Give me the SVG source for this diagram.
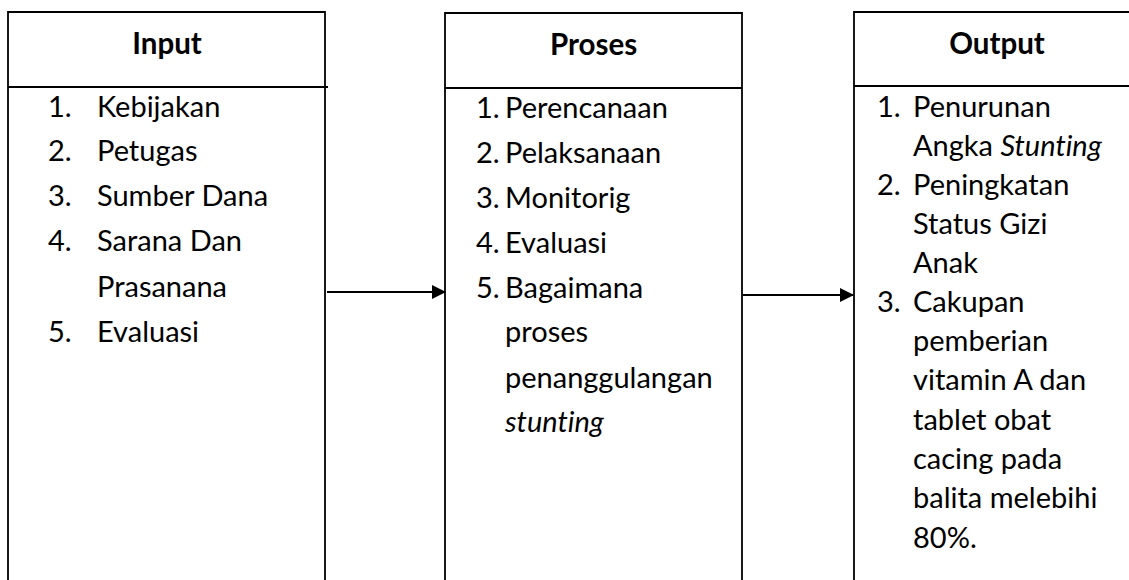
<svg xmlns="http://www.w3.org/2000/svg" width="1129" height="580" viewBox="0 0 1129 580">
<style>
.box{fill:none;stroke:#000;stroke-width:1.8}
.t{font-family:Lato,"Liberation Sans",sans-serif;font-size:29px;fill:#000;font-variant-ligatures:none}
.h{font-family:Lato,"Liberation Sans",sans-serif;font-size:29.5px;font-weight:bold;fill:#000;text-anchor:middle}
.c{fill:none;stroke:#000;stroke-width:2}
</style>
<defs>
<marker id="ah" markerWidth="14" markerHeight="14" refX="13" refY="7" orient="auto" markerUnits="userSpaceOnUse">
<path d="M0,0 L14,7 L0,14 Z" fill="#000"/>
</marker>
</defs>
<g id="input">
<path class="box" d="M8,600 V12 H325 V600"/>
<line class="box" x1="8" y1="87" x2="328" y2="87"/>
<text class="h" x="167" y="54">Input</text>
<text class="t" x="48" y="117">1.</text><text class="t" x="97" y="117">Kebijakan</text>
<text class="t" x="48" y="161">2.</text><text class="t" x="97" y="161">Petugas</text>
<text class="t" x="48" y="206">3.</text><text class="t" x="97" y="206">Sumber Dana</text>
<text class="t" x="48" y="251">4.</text><text class="t" x="97" y="251">Sarana Dan</text>
<text class="t" x="97" y="297">Prasanana</text>
<text class="t" x="48" y="342">5.</text><text class="t" x="97" y="342">Evaluasi</text>
</g>
<g id="proses">
<path class="box" d="M445,600 V13 H742 V600"/>
<line class="box" x1="445" y1="88" x2="742" y2="88"/>
<text class="h" x="593.5" y="55">Proses</text>
<text class="t" x="476" y="118">1.</text><text class="t" x="505" y="118">Perencanaan</text>
<text class="t" x="476" y="163">2.</text><text class="t" x="505" y="163">Pelaksanaan</text>
<text class="t" x="476" y="208">3.</text><text class="t" x="505" y="208">Monitorig</text>
<text class="t" x="476" y="253">4.</text><text class="t" x="505" y="253">Evaluasi</text>
<text class="t" x="476" y="298">5.</text><text class="t" x="505" y="298">Bagaimana</text>
<text class="t" x="505" y="342">proses</text>
<text class="t" x="505" y="388">penanggulangan</text>
<text class="t" x="505" y="432" font-style="italic">stunting</text>
</g>
<g id="output">
<path class="box" d="M854,600 V12 H1140"/>
<line class="box" x1="854" y1="86" x2="1140" y2="86"/>
<text class="h" x="997" y="54">Output</text>
<text class="t" x="877" y="117">1.</text><text class="t" x="913" y="117">Penurunan</text>
<text class="t" x="913" y="156">Angka <tspan font-style="italic">Stunting</tspan></text>
<text class="t" x="877" y="195">2.</text><text class="t" x="913" y="195">Peningkatan</text>
<text class="t" x="913" y="234">Status Gizi</text>
<text class="t" x="913" y="273">Anak</text>
<text class="t" x="877" y="312">3.</text><text class="t" x="913" y="312">Cakupan</text>
<text class="t" x="913" y="351">pemberian</text>
<text class="t" x="913" y="390">vitamin A dan</text>
<text class="t" x="913" y="430">tablet obat</text>
<text class="t" x="913" y="469">cacing pada</text>
<text class="t" x="913" y="508">balita melebihi</text>
<text class="t" x="913" y="548">80%.</text>
</g>
<g id="connectors">
<line class="c" x1="327" y1="292" x2="445" y2="292" marker-end="url(#ah)"/>
<line class="c" x1="743" y1="295" x2="853" y2="295" marker-end="url(#ah)"/>
</g>
</svg>
